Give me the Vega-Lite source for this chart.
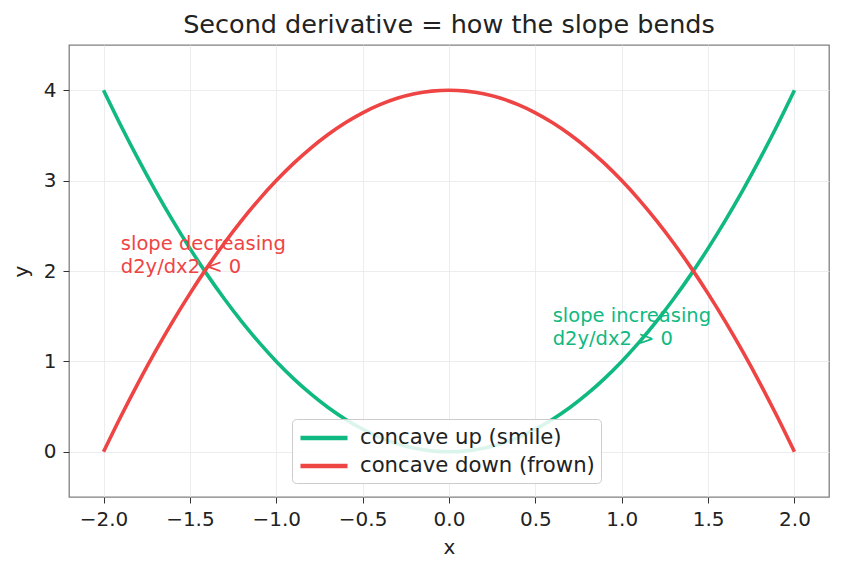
{
  "$schema": "https://vega.github.io/schema/vega-lite/v6.json",
  "width": 760,
  "height": 452,
  "autosize": {"type": "none"},
  "padding": {"left": 69, "top": 45, "right": 13, "bottom": 76},
  "background": "white",
  "config": {
    "font": "DejaVu Sans",
    "view": {"stroke": "#808080", "strokeWidth": 1.3},
    "axis": {
      "domain": false,
      "grid": true,
      "gridColor": "#e6e9ea",
      "gridWidth": 0.8,
      "tickColor": "#333333",
      "tickSize": 6,
      "tickWidth": 1,
      "labelFont": "DejaVu Sans",
      "labelFontSize": 20,
      "labelColor": "#222222",
      "labelPadding": 6,
      "titleFont": "DejaVu Sans",
      "titleFontSize": 20,
      "titleFontWeight": "normal",
      "titleColor": "#222222"
    }
  },
  "title": {
    "text": "Second derivative = how the slope bends",
    "font": "DejaVu Sans",
    "fontSize": 25.5,
    "fontWeight": "normal",
    "color": "#222222",
    "anchor": "middle",
    "offset": 7
  },
  "layer": [
    {
      "data": {
        "values": [
          {"x": -2.0, "up": 4.0, "down": 0.0},
          {"x": -1.9, "up": 3.61, "down": 0.39},
          {"x": -1.8, "up": 3.24, "down": 0.76},
          {"x": -1.7, "up": 2.89, "down": 1.11},
          {"x": -1.6, "up": 2.56, "down": 1.44},
          {"x": -1.5, "up": 2.25, "down": 1.75},
          {"x": -1.4, "up": 1.96, "down": 2.04},
          {"x": -1.3, "up": 1.69, "down": 2.31},
          {"x": -1.2, "up": 1.44, "down": 2.56},
          {"x": -1.1, "up": 1.21, "down": 2.79},
          {"x": -1.0, "up": 1.0, "down": 3.0},
          {"x": -0.9, "up": 0.81, "down": 3.19},
          {"x": -0.8, "up": 0.64, "down": 3.36},
          {"x": -0.7, "up": 0.49, "down": 3.51},
          {"x": -0.6, "up": 0.36, "down": 3.64},
          {"x": -0.5, "up": 0.25, "down": 3.75},
          {"x": -0.4, "up": 0.16, "down": 3.84},
          {"x": -0.3, "up": 0.09, "down": 3.91},
          {"x": -0.2, "up": 0.04, "down": 3.96},
          {"x": -0.1, "up": 0.01, "down": 3.99},
          {"x": 0.0, "up": 0.0, "down": 4.0},
          {"x": 0.1, "up": 0.01, "down": 3.99},
          {"x": 0.2, "up": 0.04, "down": 3.96},
          {"x": 0.3, "up": 0.09, "down": 3.91},
          {"x": 0.4, "up": 0.16, "down": 3.84},
          {"x": 0.5, "up": 0.25, "down": 3.75},
          {"x": 0.6, "up": 0.36, "down": 3.64},
          {"x": 0.7, "up": 0.49, "down": 3.51},
          {"x": 0.8, "up": 0.64, "down": 3.36},
          {"x": 0.9, "up": 0.81, "down": 3.19},
          {"x": 1.0, "up": 1.0, "down": 3.0},
          {"x": 1.1, "up": 1.21, "down": 2.79},
          {"x": 1.2, "up": 1.44, "down": 2.56},
          {"x": 1.3, "up": 1.69, "down": 2.31},
          {"x": 1.4, "up": 1.96, "down": 2.04},
          {"x": 1.5, "up": 2.25, "down": 1.75},
          {"x": 1.6, "up": 2.56, "down": 1.44},
          {"x": 1.7, "up": 2.89, "down": 1.11},
          {"x": 1.8, "up": 3.24, "down": 0.76},
          {"x": 1.9, "up": 3.61, "down": 0.39},
          {"x": 2.0, "up": 4.0, "down": 0.0}
        ]
      },
      "transform": [
        {"fold": ["up", "down"], "as": ["key", "y"]},
        {"lookup": "key", "from": {"data": {"values": [
          {"key": "up", "curve": "concave up (smile)"},
          {"key": "down", "curve": "concave down (frown)"}
        ]}, "key": "key", "fields": ["curve"]}}
      ],
      "mark": {"type": "line", "strokeWidth": 3.6, "interpolate": "monotone", "clip": true},
      "encoding": {
        "x": {
          "field": "x", "type": "quantitative", "title": "x",
          "scale": {"domain": [-2.2, 2.2], "nice": false, "zero": false},
          "axis": {"values": [-2, -1.5, -1, -0.5, 0, 0.5, 1, 1.5, 2], "format": ".1f", "titlePadding": 8}
        },
        "y": {
          "field": "y", "type": "quantitative", "title": "y",
          "scale": {"domain": [-0.5, 4.5], "nice": false, "zero": false},
          "axis": {"values": [0, 1, 2, 3, 4], "format": "d", "labelPadding": 7, "titlePadding": 12}
        },
        "color": {
          "field": "curve", "type": "nominal",
          "scale": {"domain": ["concave up (smile)", "concave down (frown)"], "range": ["#10b981", "#ef4444"]},
          "legend": {
            "title": null,
            "orient": "none",
            "legendX": 223,
            "legendY": 374,
            "symbolType": "M-2.24,0H2.24",
            "symbolStrokeWidth": 4.5,
            "symbolSize": 441,
            "symbolOffset": 13,
            "labelFont": "DejaVu Sans",
            "labelFontSize": 21.2,
            "labelColor": "#222222",
            "labelLimit": 500,
            "labelOffset": 23,
            "rowPadding": 4,
            "padding": 6,
            "fillColor": "rgba(255,255,255,0.85)",
            "strokeColor": "#cccccc",
            "cornerRadius": 4
          }
        },
        "detail": {"field": "key"}
      }
    },
    {
      "data": {
        "values": [
          {"x": -1.9, "y": 2.0, "note": "slope decreasing\nd2y/dx2 < 0", "tone": "down"},
          {"x": 0.6, "y": 1.2, "note": "slope increasing\nd2y/dx2 > 0", "tone": "up"}
        ]
      },
      "mark": {"type": "text", "align": "left", "baseline": "bottom", "fontSize": 19.5, "font": "DejaVu Sans", "lineBreak": "\n", "lineHeight": 23, "dy": -17},
      "encoding": {
        "x": {"field": "x", "type": "quantitative"},
        "y": {"field": "y", "type": "quantitative"},
        "text": {"field": "note"},
        "color": {
          "field": "tone", "type": "nominal", "legend": null,
          "scale": {"domain": ["up", "down"], "range": ["#10b981", "#ef4444"]}
        }
      }
    }
  ],
  "resolve": {"scale": {"color": "independent"}}
}
